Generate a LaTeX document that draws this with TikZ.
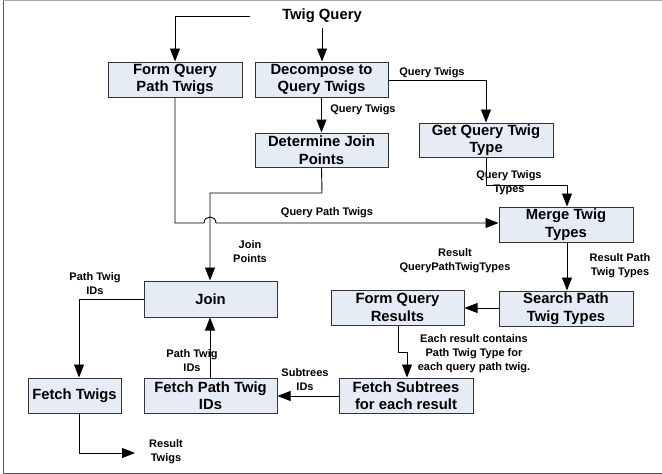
\documentclass[tikz,border=0pt]{standalone}
\usepackage{fontspec}
\setmainfont{Liberation Sans}
\usetikzlibrary{arrows.meta}
\definecolor{boxfill}{RGB}{230,236,246}
\begin{document}
\begin{tikzpicture}[x=1pt,y=-1pt,
  box/.style={draw=black!80, line width=1pt, fill=boxfill, minimum width=134pt, minimum height=35pt, inner sep=0pt, align=center, font=\fontsize{14.8}{17.5}\selectfont\bfseries},
  lbl/.style={align=center, inner sep=0pt, font=\fontsize{11}{14}\selectfont\bfseries},
  conn/.style={line width=0.9pt, -{Triangle[length=13pt,width=10pt]}},
  plain/.style={line width=0.9pt}]
\useasboundingbox (0,0) rectangle (662,474);
\draw[black!35, line width=1pt] (3,0.6) -- (662,0.6);
\draw[black!65, line width=1pt] (3,0.6) -- (3,473) -- (662,473);

% nodes
\node[font=\fontsize{14.8}{17.5}\selectfont\bfseries, inner xsep=32pt, inner ysep=5pt] (tq) at (322,16) {Twig Query};
\node[box] (fq) at (175,79.5) {Form Query\\Path Twigs};
\node[box, minimum width=133pt] (dec) at (321.5,79.5) {Decompose to\\Query Twigs};
\node[box, minimum width=133pt, minimum height=34pt] (det) at (321.5,150) {Determine Join\\Points};
\node[box, minimum height=34pt] (gq) at (486,140) {Get Query Twig\\Type};
\node[box] (merge) at (566,224.5) {Merge Twig\\Types};
\node[box] (search) at (566,308.5) {Search Path\\Twig Types};
\node[box, minimum width=133pt] (fqr) at (397.5,307.5) {Form Query\\Results};
\node[box, minimum width=133pt, minimum height=36pt] (join) at (210.5,299) {Join};
\node[box, minimum width=93pt] (ft) at (74.5,395.5) {Fetch Twigs};
\node[box, minimum width=133pt] (fpt) at (210.5,395.5) {Fetch Path Twig\\IDs};
\node[box] (fs) at (406,395.5) {Fetch Subtrees\\for each result};
\coordinate (rt) at (135,453);

% connectors
\draw[conn] (tq.west) -| (fq.north);
\draw[conn] (tq.south) -- (tq.south |- dec.north);
\draw[conn] (dec.east |- 0,80) -| (gq.north);
\draw[conn] (dec.south) -- (det.north);
\draw[conn] (gq.south) -- (486,185) -| (merge.north -| 567,0);
\draw[conn] (fq.south) -- (175,223) -- (204,223) .. controls (204,215) and (216,215) .. (216,223) -- (merge.west |- 0,223);
\draw[conn] (det.south) -- (322,193) -| (join.north -| 210,0);
\draw[conn] (join.west) -| (ft.north -| 79,0);
\draw[conn] (ft.south -| 79,0) -- (79,453) -- (rt);
\draw[conn] (fpt.north -| 210,0) -- (join.south -| 210,0);
\draw[conn] (merge.south -| 567,0) -- (search.north -| 567,0);
\draw[conn] (search.west |- 0,308) -- (fqr.east |- 0,308);
\draw[conn] (fqr.south -| 398,0) -- (398,352) -- (407,352) -- (fs.north -| 407,0);
\draw[conn] (fs.west |- 0,396) -- (fpt.east |- 0,396);

% labels
\node[lbl] (l1) at (432,73) {Query Twigs};
\node[lbl] (l2) at (363,110) {Query Twigs};
\node[lbl] (l3) at (509,183) {Query Twigs\\Types};
\node[lbl] (l4) at (327,213) {Query Path Twigs};
\node[lbl] (l5) at (250,252) {Join\\Points};
\node[lbl] (l6) at (95,284) {Path Twig\\IDs};
\node[lbl] (l7) at (455,261) {Result\\QueryPathTwigTypes};
\node[lbl] (l8) at (620,266) {Result Path\\Twig Types};
\node[lbl] (l9) at (474,354) {Each result contains\\Path Twig Type for\\each query path twig.};
\node[lbl] (l10) at (192,361) {Path Twig\\IDs};
\node[lbl] (l11) at (305,380) {Subtrees\\IDs};
\node[lbl] (l12) at (166,452) {Result\\Twigs};
\end{tikzpicture}
\end{document}
